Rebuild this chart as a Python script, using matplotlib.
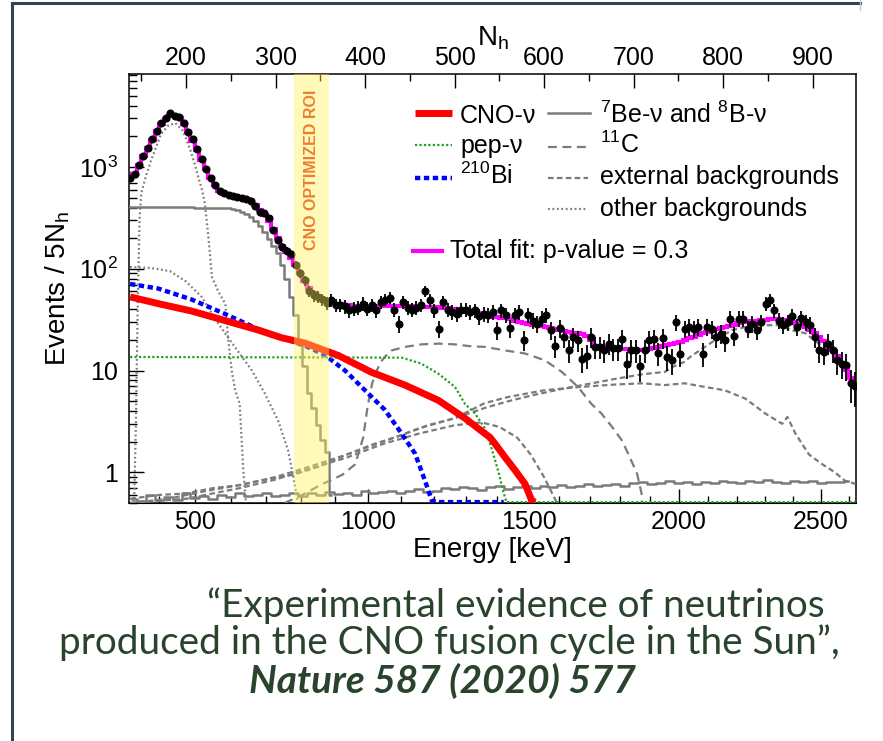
import numpy as np
import matplotlib
matplotlib.use('Agg')
import matplotlib.pyplot as plt
from matplotlib.lines import Line2D
from matplotlib.transforms import Affine2D, blended_transform_factory
from matplotlib.ticker import MultipleLocator, LogLocator, NullFormatter

plt.rcParams['font.family'] = ['Liberation Sans', 'DejaVu Sans']
plt.rcParams['mathtext.fontset'] = 'custom'
plt.rcParams['mathtext.rm'] = 'Liberation Sans'
plt.rcParams['mathtext.it'] = 'Liberation Sans:italic'
plt.rcParams['mathtext.bf'] = 'Liberation Sans:bold'

# spectrum binned in 5 N_h
nh_edges = np.arange(135, 951, 5)
nh_centers = nh_edges[:-1] + 2.5

data_counts = [
    773, 851, 1044, 1280, 1525, 1870, 2250, 2685, 3010, 3370,
    3190, 3120, 2685, 2220, 1870, 1490, 1190, 948, 773, 664,
    584, 550, 529, 518, 502, 491, 480, 465, 413, 363,
    350, 313, 240, 190, 165, 150, 139, 110, 90, 77,
    60, 55, 53, 50, 46, 49, 43.9, 43.9, 42.9, 39.2,
    40.6, 41.6, 45.5, 40.6, 43.9, 39.2, 47.3, 49.9, 52.2, 39.8,
    29, 47.3, 41.6, 39.8, 41.6, 43.9, 60.6, 49.1, 39.2, 25.9,
    47.3, 39.8, 37.7, 36.3, 39.8, 39.8, 37.7, 39.2, 34.2, 36,
    35, 37.7, 25, 39, 35, 26, 35, 37.7, 20, 35,
    31, 29, 32.4, 35, 25, 17.5, 26, 21.4, 16, 21.4,
    19.8, 13, 14, 21.4, 17.1, 17.1, 15.8, 18.4, 16.5, 16.5,
    20.6, 11.7, 15.8, 15.8, 11, 15.8, 19.8, 20.6, 15, 21,
    13.6, 12.6, 30, 14.7, 25.9, 26.8, 25.9, 26.8, 14.7, 26.8,
    25.5, 21.4, 23.1, 19.8, 32.4, 22, 32.4, 32.4, 25.9, 29,
    24.9, 30, 45.5, 49.1, 39.2, 31, 28, 30, 34, 27,
    33, 30, 28, 21.4, 15.8, 15.2, 18.4, 15.8, 12.6, 11.7,
    11.3, 7.5, 7,
]

fit_counts = [
    760, 860, 1040, 1270, 1530, 1860, 2250, 2650, 2980, 3200,
    3200, 3050, 2650, 2200, 1820, 1470, 1180, 950, 780, 660,
    585, 548, 528, 515, 503, 492, 480, 462, 420, 375,
    335, 295, 245, 200, 168, 146, 128, 108, 90, 76,
    65, 58, 53, 50, 48, 46.5, 45.5, 44.8, 44.2, 43.8,
    43.5, 43.4, 43.4, 43.3, 43.3, 43.3, 43.2, 43.2, 43.1, 43.1,
    43, 43, 42.9, 42.8, 42.7, 42.6, 42.4, 42.2, 42, 41.8,
    41.5, 41.1, 40.6, 40, 39.4, 38.8, 38.2, 37.6, 36.4, 35,
    33.8, 33.5, 33.3, 33, 32.7, 32, 31, 30, 29.2, 28.8,
    28.3, 27.8, 27.2, 26.6, 26, 25.5, 25, 24.4, 23.9, 23.5,
    23.3, 22.8, 22, 20, 17.6, 17.3, 17.1, 16.9, 16.7, 16.6,
    16.4, 16.2, 16, 15.8, 15.9, 16.1, 16.4, 16.8, 17.1, 17.4,
    17.7, 18.2, 18.7, 19.3, 19.9, 20.7, 21.5, 22.4, 23.3, 24,
    24.7, 25.4, 26.1, 26.8, 27.6, 28.3, 29.1, 30, 30.3, 30.7,
    31, 31.4, 31.7, 32, 32.2, 32.4, 31.6, 30.8, 30, 29,
    27.9, 26.8, 25, 23.2, 21.4, 19.5, 17.6, 15.8, 13.9, 12,
    10.1, 8.5, 7,
]

# fit components (N_h, events / 5 N_h)
cno_nh = [137.5, 168.8, 206, 243.6, 280.8, 306.9, 333, 370, 407.5, 444.7,
          482, 511.7, 539.7, 545.3, 556.4, 567.6, 578.8, 586.2, 590]
cno_val = [53, 45.5, 38.5, 31, 25, 21, 18.6, 14.1, 9.6, 7.2,
           5.1, 3.4, 2.2, 1.91, 1.41, 1.05, 0.77, 0.53, 0.3]

pep_nh = [137.5, 441, 463, 482, 500.6, 511.7, 522.9, 534, 541, 548.6,
          554, 558, 562, 948]
pep_val = [13.6, 13.4, 11.7, 9.3, 6.9, 4.7, 3.8, 2.7, 1.77, 1.05,
           0.67, 0.45, 0, 0]

bi210_nh = [137.5, 168.8, 206, 243.6, 280.8, 306.9, 333, 355.3, 377.7, 400,
            422.3, 441, 455.9, 467, 474.5, 480, 555]
bi210_val = [71, 64, 50, 36, 25.5, 21, 17.5, 14.2, 10, 6.4,
             4.1, 2.4, 1.53, 0.83, 0.53, 0, 0]

be7_nh = [135, 185, 232.5, 237.5, 242.5, 247.5, 252.5, 257.5, 262.5, 267.5,
          272.5, 277.5, 282.5, 287.5, 292.5, 297.5, 302.5, 307.5, 312.5, 317.5,
          322.5, 327.5, 332.5, 337.5, 342.5, 347.5, 352.5, 357.5, 362.5]
be7_val = [405, 402, 400, 399, 397, 393, 387, 378, 365, 348,
           326, 296, 262, 228, 196, 166, 143, 108, 80, 53,
           35, 19, 11, 6, 4.3, 2.9, 2.1, 1.6, 0.6]

b8_nh = np.arange(140, 950, 10)
b8_val = [0.55, 0.52, 0.6, 0.54, 0.57, 0.53, 0.62, 0.56, 0.58, 0.55,
          0.6, 0.57, 0.63, 0.58, 0.6, 0.62, 0.58,
          0.6, 0.63, 0.59, 0.62, 0.6, 0.64, 0.61, 0.63, 0.6, 0.65,
          0.62, 0.64, 0.66, 0.62, 0.65, 0.68, 0.64, 0.66, 0.7,
          0.68, 0.72, 0.7, 0.67, 0.71, 0.73, 0.69, 0.72, 0.74, 0.7,
          0.73, 0.71, 0.75, 0.72, 0.74, 0.76, 0.73, 0.75,
          0.77, 0.74, 0.78, 0.8, 0.76, 0.79, 0.82, 0.78, 0.8, 0.77,
          0.81, 0.79, 0.83, 0.8, 0.78, 0.82, 0.8, 0.84, 0.81, 0.79,
          0.83, 0.8, 0.82, 0.78, 0.81, 0.8, 0.83]

c11_nh = [310, 330, 350, 375, 389, 398, 403, 408, 413, 419,
          425, 430, 445, 463, 482, 500, 519, 534, 556, 579,
          601, 620, 638, 653, 664, 676, 687, 694, 704, 709, 712]
c11_val = [0.5, 0.6, 0.75, 0.95, 1.2, 2.2, 4.5, 7.5, 10, 12.6,
           14.5, 15.8, 17.1, 18.1, 18.4, 18.1, 17.3, 17.1, 15.8, 14.7,
           12.6, 9.7, 6.9, 4.7, 3.8, 2.8, 2.06, 1.53, 0.97, 0.62, 0.3]

tl208_nh = [137.5, 170, 200, 230, 260, 290, 320, 350, 380, 410,
            440, 470, 500, 534, 560, 590, 620, 650, 680, 710,
            735, 745, 757, 765, 780, 795, 810, 825, 840, 862,
            877, 892, 907, 922, 936, 948]
tl208_val = [0.55, 0.6, 0.62, 0.7, 0.75, 0.85, 0.95, 1.15, 1.5, 1.9,
             2.3, 2.9, 3.4, 4.3, 5.0, 5.8, 6.6, 7.4, 8.3, 9.2,
             9.7, 11, 12.2, 14, 17.1, 21, 24.9, 26.8, 27.9, 27.9,
             24.9, 23.3, 18.4, 14.7, 10.1, 6.4]

bi214_nh = [137.5, 180, 220, 260, 300, 340, 380, 420, 460, 500,
            534, 560, 600, 640, 680, 710, 735, 757, 780, 802,
            825, 847, 866, 872, 881, 896, 911, 925, 936, 948]
bi214_val = [0.5, 0.55, 0.65, 0.75, 0.9, 1.15, 1.5, 2.0, 2.7, 3.4,
             4.8, 5.5, 6.4, 6.9, 7.3, 7.5, 7.2, 7.5, 6.9, 6.4,
             5.3, 3.8, 3.0, 3.5, 2.4, 1.5, 1.2, 1.0, 0.83, 0.77]

k40_nh = [137.5, 200, 260, 300, 340, 380, 420, 460, 500, 530,
          550, 570, 585, 600, 610, 620]
k40_val = [0.5, 0.55, 0.7, 0.85, 1.1, 1.4, 1.9, 2.4, 2.9, 3.1,
           2.8, 2.2, 1.5, 0.9, 0.6, 0.4]

po210_nh = [142, 144, 146, 148, 150, 155, 160, 167, 172, 180,
            188, 196, 200, 205, 210, 214, 218, 221, 225, 229,
            236, 244, 247, 251, 255, 260, 262, 264, 267]
po210_val = [0.5, 3, 40, 300, 550, 800, 1100, 1600, 2100, 2550,
             2700, 2300, 1900, 1450, 1050, 780, 590, 440, 206, 83,
             60, 45, 21, 10, 6.4, 4.7, 2.2, 1.05, 0.5]

kr85_nh = [137.5, 160, 182, 200, 217.5, 236, 254.7, 273.4, 288.3, 303,
           314, 320, 325]
kr85_val = [104, 102, 95, 75, 53, 29, 17, 10.1, 5.9, 3.2,
            1.65, 0.9, 0.5]

roi_kev = [780, 885]

# N_h <-> energy calibration
cal_a, cal_b, cal_c = 2.4, 2.255, 0.00054


def nh_to_kev(nh):
    nh = np.asarray(nh, dtype=float)
    return cal_a + cal_b * nh + cal_c * nh ** 2


def kev_to_nh(kev):
    kev = np.asarray(kev, dtype=float)
    disc = np.maximum(cal_b ** 2 + 4 * cal_c * (kev - cal_a), 0)
    return (-cal_b + np.sqrt(disc)) / (2 * cal_c)


fig = plt.figure(figsize=(8.83, 7.41), dpi=100)
# pixel coordinates, origin at the top-left corner
px = Affine2D().scale(1 / 883, -1 / 741).translate(0, 1) + fig.transFigure

ax = fig.add_axes([129 / 883, 1 - 503 / 741, 727 / 883, 429 / 741])
ax.set_yscale('log')
ax.set_xlim(136.3, 948.6)
ax.set_ylim(0.5, 8200)

gray = '#7b7b7b'
floor = 0.51

# backgrounds
ax.plot(be7_nh, be7_val, color=gray, lw=1.8, drawstyle='steps-mid', zorder=3)
ax.plot(b8_nh, b8_val, color=gray, lw=1.8, drawstyle='steps-mid', zorder=3)
ax.plot(c11_nh, c11_val, color=gray, lw=1.6, ls=(0, (4, 2.5)), zorder=3)
for nh, val in ((tl208_nh, tl208_val), (bi214_nh, bi214_val), (k40_nh, k40_val)):
    ax.plot(nh, val, color=gray, lw=1.6, ls=(0, (2.5, 1.5)), zorder=3)
for nh, val in ((po210_nh, po210_val), (kr85_nh, kr85_val)):
    ax.plot(nh, val, color=gray, lw=1.6, ls=(0, (0.8, 1.2)), zorder=3)

# neutrino signals and 210Bi (drawn down to the frame when below range)
ax.plot(bi210_nh, np.clip(bi210_val, floor, None), color='#0000ff', lw=3.2,
        ls=(0, (1.2, 0.8)), zorder=4)
ax.plot(pep_nh, np.clip(pep_val, floor, None), color='#22a022', lw=1.6,
        ls=(0, (1, 1)), zorder=4)
ax.plot(cno_nh, np.clip(cno_val, floor, None), color='#ff0000', lw=5,
        solid_capstyle='butt', zorder=4)

# total fit and data
ax.stairs(fit_counts, nh_edges, baseline=None, color='#ff00ff', lw=3, zorder=5)
counts = np.array(data_counts)
ax.errorbar(nh_centers, counts, yerr=np.sqrt(counts), fmt='o', color='black',
            ms=4.8, elinewidth=1.3, capsize=0, zorder=6)

# CNO optimized region of interest
roi_nh = kev_to_nh(roi_kev)
ax.axvspan(roi_nh[0], roi_nh[1], color=(1.0, 0.96, 0.35), alpha=0.42, lw=0, zorder=7)
trans = blended_transform_factory(ax.transData, ax.transAxes)
ax.text(roi_nh.mean(), 0.776, 'CNO OPTIMIZED ROI', transform=trans, rotation=90,
        ha='center', va='center', color='#ed7d31', fontsize=11.5, fontweight='bold',
        zorder=8)

# axes: N_h on top, energy below
ax.xaxis.tick_top()
ax.set_xticks(range(200, 901, 100))
ax.xaxis.set_minor_locator(MultipleLocator(50))
ax.tick_params(axis='x', which='both', direction='in', top=True, bottom=False,
               labeltop=True, labelbottom=False, labelsize=18, pad=3)
ax.tick_params(axis='x', which='major', length=10, width=1)
ax.tick_params(axis='x', which='minor', length=5, width=1)
ax.xaxis.set_label_position('top')
ax.set_xlabel(r'N$_\mathrm{h}$', fontsize=20, labelpad=0)

ax.set_yticks([1, 10, 100, 1000])
ax.set_yticklabels(['1', '10', r'$10^{2}$', r'$10^{3}$'])
ax.yaxis.set_minor_locator(LogLocator(base=10, subs=range(2, 10)))
ax.yaxis.set_minor_formatter(NullFormatter())
ax.tick_params(axis='y', which='both', direction='in', left=True, right=False,
               labelsize=18, pad=8)
ax.tick_params(axis='y', which='major', length=11, width=1)
ax.tick_params(axis='y', which='minor', length=6, width=1)
ax.set_ylabel(r'Events / 5N$_\mathrm{h}$', fontsize=20)
ax.yaxis.set_label_coords(-0.078, 0.5)

secax = ax.secondary_xaxis('bottom', functions=(nh_to_kev, kev_to_nh))
secax.set_xticks([500, 1000, 1500, 2000, 2500])
secax.xaxis.set_minor_locator(MultipleLocator(100))
secax.tick_params(which='both', direction='in', labelsize=18, pad=5)
secax.tick_params(which='major', length=10, width=1)
secax.tick_params(which='minor', length=5, width=1)
secax.set_xlabel('Energy [keV]', fontsize=20, labelpad=2)

for spine in ax.spines.values():
    spine.set_linewidth(1.1)


# legend
def legend_key(x0, x1, y, **style):
    fig.add_artist(Line2D([x0, x1], [y, y], transform=px, **style))


def legend_label(x, y, s):
    fig.text(x, y, s, transform=px, fontsize=18, va='baseline', ha='left')


legend_key(415, 452, 113, color='#ff0000', lw=5, solid_capstyle='butt')
legend_label(460, 123, 'CNO-ν')
legend_key(415, 452, 145, color='#22a022', lw=1.6, ls=(0, (1, 1)))
legend_label(460, 153, 'pep-ν')
legend_key(415, 452, 178, color='#0000ff', lw=3.2, ls=(0, (1.2, 0.8)))
legend_label(460, 184, r'$^{210}$Bi')
legend_key(548, 590, 113, color=gray, lw=1.8)
legend_label(600, 123, r'$^{7}$Be-ν and $^{8}$B-ν')
legend_key(548, 586, 147, color=gray, lw=1.6, ls=(0, (4, 2.5)))
legend_label(600, 153, r'$^{11}$C')
legend_key(548, 588, 178, color=gray, lw=1.6, ls=(0, (2.5, 1.5)))
legend_label(600, 184, 'external backgrounds')
legend_key(548, 588, 209, color=gray, lw=1.6, ls=(0, (0.8, 1.2)))
legend_label(600, 216, 'other backgrounds')
legend_key(413, 442, 251, color='#ff00ff', lw=3)
legend_label(450, 258, 'Total fit: p-value = 0.3')

# slide frame
frame = '#34444e'
fig.add_artist(Line2D([12, 12], [3, 741], transform=px, color=frame, lw=2.2))
fig.add_artist(Line2D([12, 860], [3, 3], transform=px, color=frame, lw=2.2))
fig.add_artist(Line2D([860, 860], [0, 10], transform=px, color='#c8c8c8', lw=1))

# reference caption, one size for all lines, set from the widest line
renderer = fig.canvas.get_renderer()
caption_style = dict(transform=px, ha='center', va='center', fontsize=26,
                     family=['Lato', 'DejaVu Sans'], color='#29432c')
lines = [
    fig.text(516, 606, '“Experimental evidence of neutrinos', **caption_style),
    fig.text(449, 643, 'produced in the CNO fusion cycle in the Sun”,', **caption_style),
    fig.text(442, 681, 'Nature 587 (2020) 577', fontweight='bold', style='italic',
             **caption_style),
]
caption_size = 26 * 780 / lines[1].get_window_extent(renderer).width
for t in lines:
    t.set_fontsize(caption_size)

fig.savefig('out.png', dpi=100, facecolor='white')
